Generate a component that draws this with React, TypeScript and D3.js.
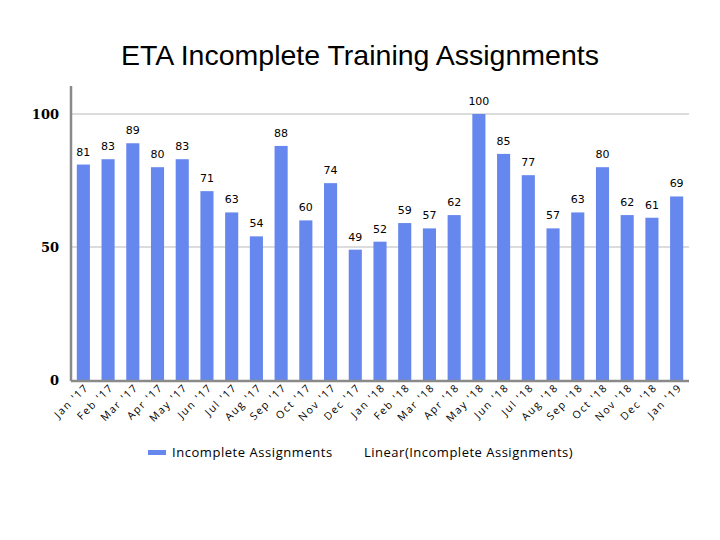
import React from 'react'
import * as d3 from 'd3'

// monthly counts
const months = [
  "Jan '17", "Feb '17", "Mar '17", "Apr '17", "May '17", "Jun '17", "Jul '17", "Aug '17",
  "Sep '17", "Oct '17", "Nov '17", "Dec '17", "Jan '18", "Feb '18", "Mar '18", "Apr '18",
  "May '18", "Jun '18", "Jul '18", "Aug '18", "Sep '18", "Oct '18", "Nov '18", "Dec '18", "Jan '19",
]
const incomplete = [81, 83, 89, 80, 83, 71, 63, 54, 88, 60, 74, 49, 52, 59, 57, 62, 100, 85, 77, 57, 63, 80, 62, 61, 69]
const yTicks = [0, 50, 100]

const W = 720, H = 540
const left = 71, right = 689, bottom = 380

const App = () => {
  const x = d3.scaleBand<string>()
    .domain(months)
    .range([left, right])
    .paddingInner(0.47)
    .paddingOuter(0.235)
  const y = d3.scaleLinear()
    .domain([0, 100])
    .range([bottom, 114])

  const barColor = '#6688ee'

  return (
    <svg width={W} height={H} style={{ position: 'absolute', left: 0, top: 0, background: '#fff' }}>
      <text x={360} y={65} textAnchor="middle" fontFamily="'Liberation Sans', Arial, sans-serif" fontSize={28.5} fill="#000">
        ETA Incomplete Training Assignments
      </text>

      {/* gridlines */}
      {yTicks.filter(t => t > 0).map(t => (
        <line key={t} x1={left} x2={right} y1={y(t)} y2={y(t)} stroke="#d0d0d0" strokeWidth={1.5} />
      ))}

      {/* bars */}
      {incomplete.map((v, i) => (
        <rect key={months[i]} x={x(months[i])} y={y(v)} width={x.bandwidth()} height={bottom - y(v)} fill={barColor} />
      ))}

      {/* value labels */}
      {incomplete.map((v, i) => (
        <text key={'l' + i} x={(x(months[i]) as number) + x.bandwidth() / 2} y={y(v) - 9}
          textAnchor="middle" fontFamily="'DejaVu Sans', sans-serif" fontSize={11} fill="#000">{v}</text>
      ))}

      {/* axes */}
      <line x1={left} x2={left} y1={86} y2={bottom + 1} stroke="#8a8a8a" strokeWidth={2.5} />
      <line x1={left} x2={right} y1={bottom + 1} y2={bottom + 1} stroke="#8a8a8a" strokeWidth={2.5} />

      {yTicks.map(t => (
        <text key={'t' + t} x={59} y={y(t) + 5} textAnchor="end" fontFamily="'DejaVu Serif', serif"
          fontWeight="bold" fontSize={13} fill="#000">{t}</text>
      ))}

      {months.map(m => {
        const cx = (x(m) as number) + x.bandwidth() / 2 + 6
        return (
          <text key={'x' + m} transform={`translate(${cx},${bottom + 8}) rotate(-45)`} textAnchor="end"
            fontFamily="'Open Sans', sans-serif" fontSize={10.5} letterSpacing={1.6} fill="#000">{m}</text>
        )
      })}

      {/* legend */}
      <rect x={148} y={450} width={18} height={5} fill={barColor} />
      <text x={172} y={457} fontFamily="'Open Sans', sans-serif" fontSize={13} letterSpacing={0.55} fill="#000">
        Incomplete Assignments
      </text>
      <text x={364} y={457} fontFamily="'Open Sans', sans-serif" fontSize={13} letterSpacing={0.5} fill="#000">
        Linear(Incomplete Assignments)
      </text>
    </svg>
  )
}

export default App
